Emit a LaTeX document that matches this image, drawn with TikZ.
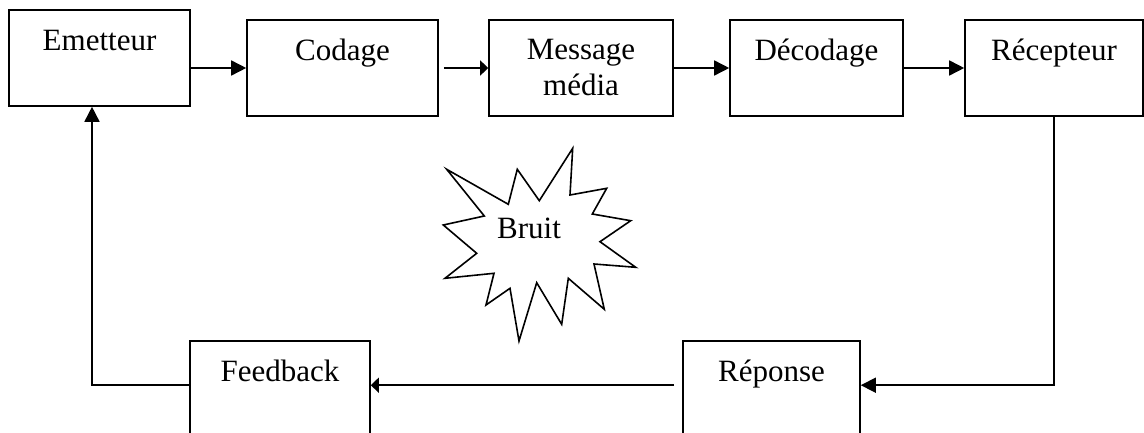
\documentclass[tikz,border=0pt]{standalone}
\usepackage{fontspec}
\setmainfont{Liberation Serif}
\usetikzlibrary{arrows.meta}
\begin{document}
\begin{tikzpicture}[x=1pt,y=1pt,
  stage/.style={draw, line width=1.6pt, rectangle, inner sep=0pt, minimum height=96pt},
  lowstage/.style={stage, minimum height=100pt},
  lbl/.style={anchor=base, inner sep=0pt, align=center, font=\fontsize{31}{36.7}\selectfont},
  arr/.style={line width=1.6pt, -{Triangle[length=15pt,width=15pt]}},
  shortarr/.style={line width=1.6pt, -{Triangle[length=8pt,width=15pt]}},
  wire/.style={line width=1.6pt}]
\useasboundingbox (0,0) rectangle (1144,432);
\clip (0,0) rectangle (1144,432);

% chain of stages along the top
\node[stage, minimum width=181pt] (emetteur)  at (99.5,374) {};
\node[stage, minimum width=191pt] (codage)    at (342.5,364) {};
\node[stage, minimum width=184pt] (message)   at (581,364) {};
\node[stage, minimum width=173pt] (decodage)  at (816.5,364) {};
\node[stage, minimum width=178pt] (recepteur) at (1054,364) {};

% return path along the bottom
\node[lowstage, minimum width=177pt] (reponse)  at (771.5,41) {};
\node[lowstage, minimum width=180pt] (feedback) at (280,41) {};

% labels, set near the top of each box (a two-line label sits on its last baseline)
\node[lbl] (t1) at ([yshift=-41pt]emetteur.north)  {Emetteur};
\node[lbl] (t2) at ([yshift=-41pt]codage.north)    {Codage};
\node[lbl] (t3) at ([yshift=-76.7pt]message.north) {Message\\média};
\node[lbl] (t4) at ([yshift=-41pt]decodage.north)  {Décodage};
\node[lbl] (t5) at ([yshift=-41pt]recepteur.north) {Récepteur};
\node[lbl] (t6) at ([yshift=-41pt]reponse.north)   {Réponse};
\node[lbl] (t7) at ([yshift=-41pt]feedback.north)  {Feedback};

% forward arrows
\draw[arr] (emetteur.east |- codage.west) -- (codage.west);
\draw[shortarr] ([xshift=5pt]codage.east) -- (message.west);
\draw[arr] (message.east) -- (decodage.west);
\draw[arr] (decodage.east) -- (recepteur.west);

% feedback loop
\coordinate (loopy) at ([yshift=-45pt]reponse.north east);
\draw[arr] (recepteur.south) |- (loopy);
\draw[shortarr] ([xshift=-8pt]reponse.west |- loopy) -- (feedback.east |- loopy);
\draw[arr] (feedback.west |- loopy) -| ([xshift=-7.5pt]emetteur.south);

% noise burst
\draw[line width=1.6pt, line join=miter, fill=white]
  (446.7,262.7) -- (508.3,227.7) -- (517.3,262.7) -- (539.3,231.3)
  -- (572.7,283.7) -- (570,237) -- (606.7,243.7) -- (592.3,218)
  -- (630.7,211.3) -- (600,190.3) -- (635.7,164.7) -- (594,168)
  -- (604.3,122.7) -- (568.3,153.7) -- (561.7,107.7) -- (536.7,149.3)
  -- (519,91) -- (510,143.7) -- (486,127) -- (494,158.7)
  -- (445,153.7) -- (476.7,178.7) -- (443.3,207) -- (484.3,216) -- cycle;
\node[lbl] (bruit) at (529,193.7) {Bruit};
\end{tikzpicture}
\end{document}
